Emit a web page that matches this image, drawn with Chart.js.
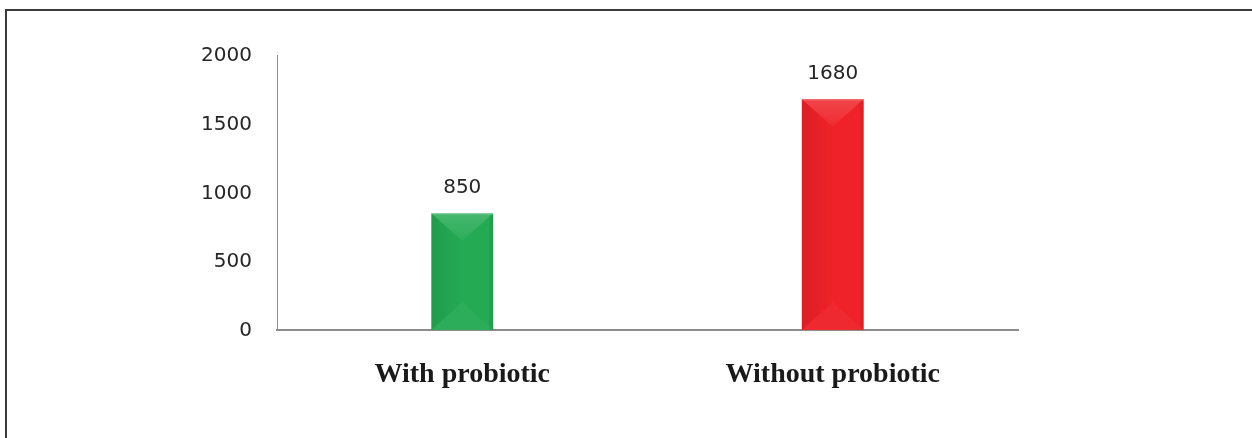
<!DOCTYPE html>
<html>
<head>
<meta charset="utf-8">
<script src="https://cdn.jsdelivr.net/npm/chart.js@4"></script>
<style>
  html, body { margin: 0; padding: 0; background: #ffffff; }
  body { width: 1252px; height: 438px; overflow: hidden; position: relative; }
  #frame {
    position: absolute; left: 5px; top: 9px; width: 1400px; height: 600px;
    border-top: 2px solid #3c3c3c; border-left: 2px solid #3c3c3c;
    box-sizing: border-box;
  }
  #wrap { position: absolute; left: 0; top: 0; width: 1252px; height: 438px; }
</style>
</head>
<body>
<div id="frame"></div>
<div id="wrap"><canvas id="chart"></canvas></div>
<script>
const categories = ['With probiotic', 'Without probiotic'];
const values = [850, 1680];
const barColors = ['#23aa53', '#ee2228'];
const yTicks = [0, 500, 1000, 1500, 2000];

// Bevelled look for each bar plus the value printed above it.
const bevelAndLabels = {
  id: 'bevelAndLabels',
  afterDatasetsDraw(chart) {
    const ctx = chart.ctx;
    const meta = chart.getDatasetMeta(0);
    meta.data.forEach((bar, i) => {
      const p = bar.getProps(['x', 'y', 'base', 'width'], true);
      const l = p.x - p.width / 2, r = p.x + p.width / 2;
      const top = p.y, bot = p.base;
      const d = Math.min(p.width * 0.45, (bot - top) / 2);
      ctx.save();
      // left side shade
      const g = ctx.createLinearGradient(l, 0, p.x, 0);
      g.addColorStop(0, 'rgba(0,0,0,0.08)');
      g.addColorStop(1, 'rgba(0,0,0,0.0)');
      ctx.fillStyle = g;
      ctx.beginPath();
      ctx.moveTo(l, top); ctx.lineTo(p.x, top + d); ctx.lineTo(p.x, bot - d); ctx.lineTo(l, bot);
      ctx.closePath(); ctx.fill();
      // right edge shade
      const g2 = ctx.createLinearGradient(r - 5, 0, r, 0);
      g2.addColorStop(0, 'rgba(0,0,0,0)');
      g2.addColorStop(1, 'rgba(0,0,0,0.10)');
      ctx.fillStyle = g2;
      ctx.fillRect(r - 5, top + 2, 5, bot - top - 2);
      // top facet
      const g3 = ctx.createLinearGradient(0, top, 0, top + d);
      g3.addColorStop(0, 'rgba(255,255,255,0.16)');
      g3.addColorStop(1, 'rgba(255,255,255,0.04)');
      ctx.fillStyle = g3;
      ctx.beginPath();
      ctx.moveTo(l, top); ctx.lineTo(r, top); ctx.lineTo(p.x, top + d);
      ctx.closePath(); ctx.fill();
      // bottom facet
      ctx.fillStyle = 'rgba(255,255,255,0.04)';
      ctx.beginPath();
      ctx.moveTo(l, bot); ctx.lineTo(r, bot); ctx.lineTo(p.x, bot - d);
      ctx.closePath(); ctx.fill();
      // top highlight line
      ctx.fillStyle = 'rgba(255,255,255,0.18)';
      ctx.fillRect(l, top, p.width, 1.5);
      // value label
      ctx.fillStyle = '#262626';
      ctx.font = '20px "DejaVu Sans"';
      ctx.textAlign = 'center';
      ctx.textBaseline = 'middle';
      ctx.fillText(String(values[i]), p.x, top - 25);
      ctx.restore();
    });
  }
};

new Chart(document.getElementById('chart'), {
  type: 'bar',
  data: {
    labels: categories,
    datasets: [{
      data: values,
      backgroundColor: barColors,
      borderWidth: 0,
      barPercentage: 1,
      categoryPercentage: 0.167
    }]
  },
  options: {
    responsive: true,
    maintainAspectRatio: false,
    animation: false,
    events: [],
    layout: { padding: { left: 0, right: 234, top: 55, bottom: 0 } },
    plugins: { legend: { display: false }, tooltip: { enabled: false } },
    scales: {
      x: {
        grid: { display: false, drawTicks: false },
        border: { display: true, color: '#8c8c8c', width: 2 },
        ticks: {
          padding: 28,
          color: '#1a1a1a',
          font: { family: '"Liberation Serif"', size: 28, weight: 'bold' }
        },
        afterFit(scale) { scale.height = 108; }
      },
      y: {
        min: 0,
        max: 2000,
        afterBuildTicks(scale) { scale.ticks = yTicks.map(v => ({ value: v })); },
        grid: { display: false, drawTicks: false },
        border: { display: true, color: '#8c8c8c', width: 1 },
        ticks: {
          padding: 25,
          labelOffset: 1,
          color: '#262626',
          font: { family: '"DejaVu Sans"', size: 20 },
          callback: (v) => String(v)
        },
        afterFit(scale) { scale.width = 277; }
      }
    }
  },
  plugins: [bevelAndLabels]
});
</script>
</body>
</html>
